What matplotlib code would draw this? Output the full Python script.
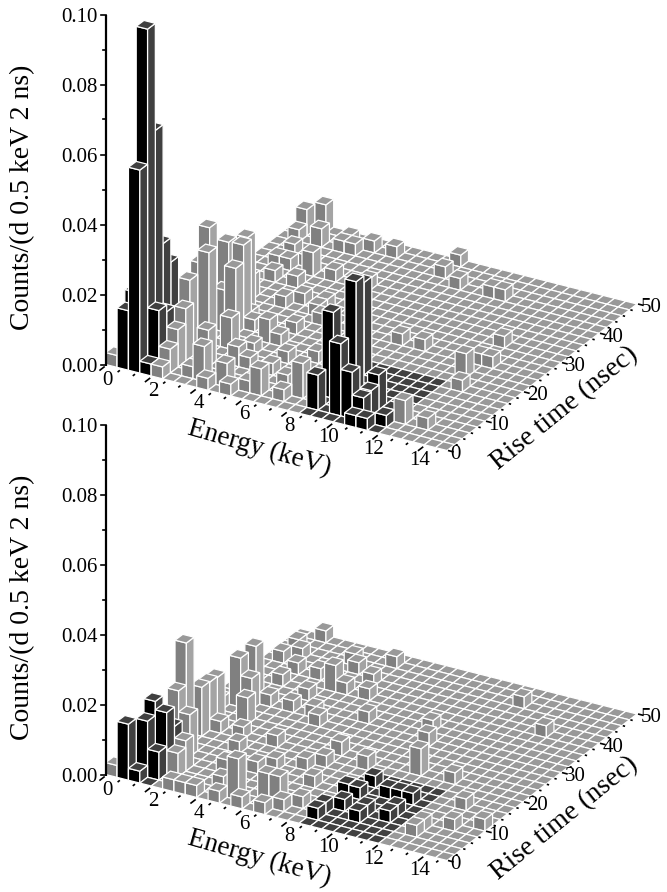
import matplotlib
matplotlib.use("Agg")
import matplotlib.pyplot as plt
from matplotlib.patches import Polygon
import numpy as np

plt.rcParams['font.family'] = ['Liberation Serif', 'DejaVu Serif']

# histogram bins: (energy bin [0.5 keV], rise-time bin [2 ns], counts value)
top_bars = [
 (1,0,.017),(1,1,.0206),(2,0,.058),(2,1,.0966),(2,2,.066),(3,0,.0034),(3,1,.017),(3,2,.015),(2,3,.032),(2,4,.025),(3,3,.008),(3,4,.005),
 (17,1,.01),(17,3,.0246),(19,1,.0206),(19,3,.035),(17,7,.0265),(20,1,.0133),(21,2,.0072),(21,3,.01),(21,1,.0068),(21,0,.0034),(22,0,.0034),(23,1,.0034),(23,2,.0034),(23,3,.0034),
 (0,0,.0034),(4,6,.026),(2,9,.0265),(2,8,.018),(3,5,.019),(3,10,.0215),(5,9,.024),(4,11,.022),(5,8,.019),(4,8,.012),(6,6,.009),
 (7,1,.01),(6,3,.0105),(8,4,.0057),(9,1,.0068),(8,0,.0034),(10,0,.0034),(12,1,.0077),(15,2,.01),(8,8,.0068),(9,8,.0034),(9,10,.0034),(6,13,.0034),(5,18,.0068),(9,13,.0034),(7,18,.0034),(3,13,.0068),(3,12,.0034),
 (1,22,.0034),(1,23,.0075),(3,22,.0053),(2,24,.008),
 (3,18,.0034),(2,20,.0034),(4,19,.0034),(6,22,.0034),(5,16,.0034),(4,9,.0034),(5,10,.0034),(8,6,.0034),
 (4,0,.0034),(4,1,.0068),(4,2,.0107),(4,3,.015),(3,9,.0034),(11,6,.0034),(11,4,.0034),(6,1,.0034),(14,1,.0034),(11,1,.0034),(3,16,.0034),(2,18,.0034),(10,12,.0034),(9,14,.0034),
 (9,4,.0034),(13,7,.0034),(13,3,.0034),(6,9,.0034),(7,14,.0034),(10,18,.0034),(5,22,.0034),
 (26,2,.0034),(24,2,.0068),(25,8,.0034),(24,10,.0068),(25,12,.0034),(24,12,.0034),(24,15,.0034),(19,12,.0034),(17,12,.0034),(19,21,.0034),(20,21,.0034),(16,21,.0034),(14,22,.0034),(14,24,.0034),(9,23,.0034),(7,23,.0034),(5,23,.0034),
]
bottom_bars = [
 (1,0,.016),(2,0,.0034),(2,1,.016),(2,2,.02),(3,1,.008),(3,3,.012),(3,2,.0176),(3,4,.0057),
 (0,0,.0034),(2,6,.03),(2,5,.018),(2,8,.014),(2,9,.0138),(2,10,.0135),(3,9,.0034),(1,12,.0034),(2,13,.014),(2,15,.014),(3,13,.009),(3,17,.0034),(4,14,.0034),(6,14,.0034),(2,21,.0034),(2,24,.0034),(7,18,.0076),(3,5,.012),
 (10,1,.0118),(12,2,.0075),(13,2,.0075),(9,0,.0034),(5,0,.0034),(6,0,.0034),(7,0,.0034),(11,0,.0034),(13,0,.0034),(14,1,.0034),
 (4,2,.0068),(4,3,.0087),(6,7,.0034),(8,9,.0034),(5,9,.0034),(9,5,.0034),(7,4,.004),(8,2,.0034),(10,6,.0034),
 (9,13,.0034),(5,19,.0034),(4,11,.0076),(1,20,.0034),(1,22,.0034),(3,19,.0034),
 (8,18,.0034),(7,21,.0034),(9,20,.0034),(10,18,.0034),(6,22,.0034),(9,23,.0034),(12,15,.0034),(8,14,.0034),(6,16,.0034),
 (13,10,.004),(13,8,.0034),(16,9,.004),(14,5,.0034),(15,2,.0034),(12,7,.0034),
 (21,22,.0034),(25,19,.0034),(17,16,.0034),(18,14,.004),(20,10,.0078),(23,10,.0034),(26,7,.0034),(27,4,.0034),(29,5,.0034),(25,2,.0034),(25,3,.0034),
 (17,1,.0034),(17,2,.0034),(18,3,.0034),(20,2,.0034),(20,3,.0034),(22,3,.0034),(22,4,.0034),(17,5,.0036),(18,5,.0034),(20,6,.0034),(21,6,.0034),(22,6,.0034),(18,7,.0034),
]
energy_ticks = [0, 2, 4, 6, 8, 10, 12, 14]
rise_ticks = [0, 10, 20, 30, 40, 50]
count_ticks = [0.00, 0.02, 0.04, 0.06, 0.08, 0.10]
n_energy, n_rise = 30, 25

fig = plt.figure(figsize=(6.67, 8.92), dpi=100)
ax = fig.add_axes([0, 0, 1, 1])
ax.set_xlim(0, 667); ax.set_ylim(892, 0); ax.axis('off')

# floor corners (pixel offsets) of the oblique view
C00 = np.array([105.7, 0.0]); C10 = np.array([447.0, 86.0])
C11 = np.array([637.0, -60.5]); C01 = np.array([300.0, -146.0])
SCALE = 3500.0

def proj(i, j, v, y0):
    u, w = i/n_energy, j/n_rise
    p = C00*(1-u)*(1-w) + C10*u*(1-w) + C11*u*w + C01*(1-u)*w
    return (p[0], y0 + p[1] - v*SCALE)

def is_black(i, j):
    return (1 <= i <= 3 and j <= 4) or (17 <= i <= 23 and j <= 8)

def draw_panel(bars, y0):
    z = 0
    heights = {(i, j): v for i, j, v in bars}
    ec = dict(edgecolor='white', linewidth=0.9, joinstyle='miter')
    for j in range(n_rise-1, -1, -1):
        for i in range(n_energy):
            v = heights.get((i, j), 0.0)
            blk = is_black(i, j)
            cf, cs, ct = ('#000000', '#404040', '#404040') if blk else ('#808080', '#a4a4a4', '#999999')
            p = lambda a, b, c: proj(a, b, c, y0)
            if v > 0:
                ax.add_patch(Polygon([p(i,j,0), p(i+1,j,0), p(i+1,j,v), p(i,j,v)], facecolor=cf, zorder=z, **ec))
                ax.add_patch(Polygon([p(i+1,j,0), p(i+1,j+1,0), p(i+1,j+1,v), p(i+1,j,v)], facecolor=cs, zorder=z, **ec))
            ax.add_patch(Polygon([p(i,j,v), p(i+1,j,v), p(i+1,j+1,v), p(i,j+1,v)], facecolor=ct, zorder=z, **ec))
            z += 1
    zt = z + 1
    # count axis
    xa = C00[0] + 0.5
    ax.plot([xa, xa], [y0+1, y0-0.10*SCALE], color='k', lw=1.6, zorder=zt, solid_capstyle='butt')
    for k in range(11):
        v = k*0.01
        L = 5 if k % 2 == 0 else 3
        ax.plot([xa-L, xa], [y0-v*SCALE]*2, color='k', lw=1.2, zorder=zt)
    for v in count_ticks:
        ax.text(98, y0 - v*SCALE + 3.5, f'{v:.2f}', ha='right', va='center', fontsize=15, zorder=zt)
    ax.text(23, y0 - 167, 'Counts/(d 0.5 keV 2 ns)', rotation=90, ha='center', va='center', fontsize=20, zorder=zt)
    # energy axis ticks: majors every 2 keV, two minors between
    for k in range(0, 23):
        e = k*2/3
        x, y = proj(e*2, 0, 0, y0)
        L = 0.7 if k % 3 == 0 else 0.3
        ax.plot([x-1, x-1 - 7.6*L], [y+2, y+2 + 5.84*L], color='k', lw=1.2, zorder=zt, solid_capstyle='butt')
    for e in energy_ticks:
        x, y = proj(e*2, 0, 0, y0)
        dx = 2 if e < 10 else -5
        ax.text(x+dx, y+16, str(e), ha='center', va='center', fontsize=15, zorder=zt)
    # rise-time axis ticks
    for r in range(0, 51, 2):
        x, y = proj(n_energy, r/2, 0, y0)
        L = 0.5 if r % 10 == 0 else 0.2
        ax.plot([x+1, x+1 + 11.4*L], [y, y + 2.87*L], color='k', lw=1.2, zorder=zt, solid_capstyle='butt')
    for r in rise_ticks:
        x, y = proj(n_energy, r/2, 0, y0)
        ax.text(x + (8 if r == 0 else 14), y + 4, str(r), ha='center', va='center', fontsize=15, zorder=zt)
    ax.text(259, y0 + 84, 'Energy (keV)', rotation=-16, rotation_mode='anchor', ha='center', va='center', fontsize=19.5, zorder=zt)
    ax.text(565, y0 + 44, 'Rise time (nsec)', rotation=39, rotation_mode='anchor', ha='center', va='center', fontsize=20, zorder=zt)

draw_panel(top_bars, 364.5)
draw_panel(bottom_bars, 774.5)
fig.savefig('out.png', dpi=100)
